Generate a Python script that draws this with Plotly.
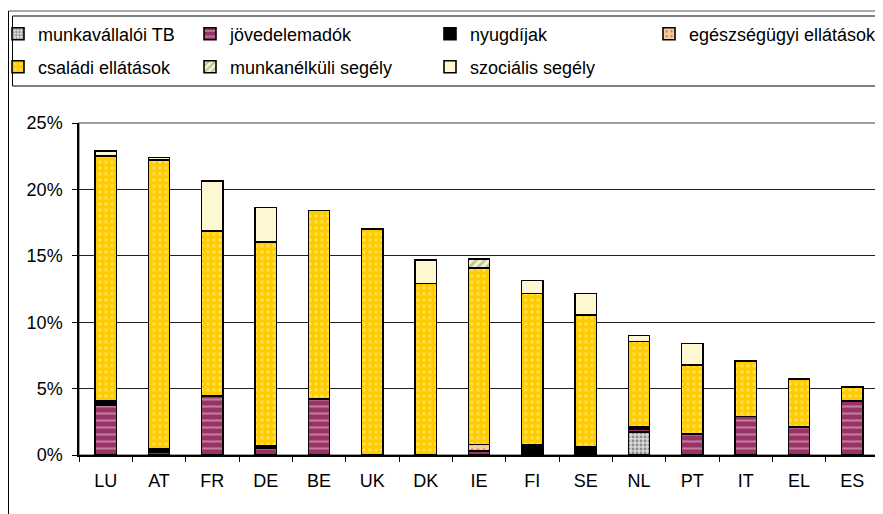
import plotly.graph_objects as go

countries = ["LU", "AT", "FR", "DE", "BE", "UK", "DK", "IE", "FI", "SE", "NL", "PT", "IT", "EL", "ES"]
munkavallaloi_TB = [0, 0, 0, 0, 0, 0, 0, 0, 0, 0, 1.75, 0, 0, 0, 0]
jovedelemadok = [3.75, 0.2, 4.45, 0.5, 4.2, 0, 0, 0.3, 0, 0, 0.2, 1.6, 2.9, 2.1, 4.05]
nyugdijak = [0.3, 0.3, 0, 0.2, 0, 0, 0, 0, 0.75, 0.6, 0.2, 0, 0, 0, 0]
egeszsegugyi = [0, 0, 0, 0, 0, 0, 0, 0.5, 0, 0, 0, 0, 0, 0, 0]
csaladi = [18.45, 21.7, 12.4, 15.35, 14.2, 17.0, 12.9, 13.3, 11.4, 9.95, 6.4, 5.2, 4.2, 3.6, 1.05]
munkanelkuli = [0, 0, 0, 0, 0, 0, 0, 0.65, 0, 0, 0, 0, 0, 0, 0]
szocialis = [0.4, 0.2, 3.8, 2.6, 0, 0, 1.8, 0, 1.0, 1.6, 0.45, 1.6, 0, 0, 0]

# page body has an 8px default margin: compensate so the picture lands at window pixels
OFF = 8
W, H = 883 - OFF, 514 - OFF
ML, MR, MT, MB = 79 - OFF, 4, 123 - OFF, 59
PW, PH = W - ML - MR, H - MT - MB

def px(x):
    return (x - OFF - ML) / PW

def py(y):
    return (H - MB - (y - OFF)) / PH

FONT = "Liberation Sans, Arial, sans-serif"

series = [
    ("munkavállalói TB", munkavallaloi_TB, "#c8c8c8", dict(shape=".", fgcolor="#404040", bgcolor="#d8d8d8", size=4, solidity=0.4), (-2, 34)),
    ("jövedelemadók", jovedelemadok, "#993366", dict(shape="-", fgcolor="#e8c4d6", bgcolor="#993366", size=7, solidity=0.3), (190, 34)),
    ("nyugdíjak", nyugdijak, "#000000", None, (430, 34)),
    ("egészségügyi ellátások", egeszsegugyi, "#ffcc99", dict(shape=".", fgcolor="#806040", bgcolor="#ffcc99", size=6, solidity=0.25), (649, 34)),
    ("családi ellátások", csaladi, "#ffcc00", dict(shape=".", fgcolor="#fff2b0", bgcolor="#ffcc00", size=6, solidity=0.25), (-2, 67)),
    ("munkanélküli segély", munkanelkuli, "#999966", dict(shape="/", fgcolor="#8a8a40", bgcolor="#f4f4dc", size=6, solidity=0.45), (190, 67)),
    ("szociális segély", szocialis, "#fdf8d2", None, (430, 67)),
]

fig = go.Figure()
layout_legends = {}
for i, (name, vals, color, pat, pos) in enumerate(series):
    lname = "legend" if i == 0 else f"legend{i+1}"
    marker = dict(color=color, line=dict(color="#000000", width=1.6))
    if pat is not None:
        marker["pattern"] = pat
    fig.add_trace(go.Bar(
        x=countries, y=vals, name=name, marker=marker, legend=lname,
    ))
    layout_legends[lname] = dict(
        x=px(pos[0]), y=py(pos[1]), xanchor="left", yanchor="middle",
        bgcolor="rgba(0,0,0,0)", borderwidth=0,
        font=dict(family=FONT, size=18, color="#000000"),
        itemwidth=30,
    )

shapes = [
    # outer chart frame
    dict(type="line", xref="paper", yref="paper", x0=px(8.5), x1=px(890), y0=py(11), y1=py(11), line=dict(color="#555555", width=1)),
    dict(type="line", xref="paper", yref="paper", x0=px(8.5), x1=px(8.5), y0=py(11), y1=py(520), line=dict(color="#000000", width=1)),
    # legend box
    dict(type="rect", xref="paper", yref="paper", x0=px(12.5), x1=px(895), y0=py(16), y1=py(86), line=dict(color="#000000", width=1)),
    # plot area border
    dict(type="rect", xref="paper", yref="paper", x0=0, x1=1, y0=0, y1=1, line=dict(color="#808080", width=1.5), layer="below"),
]

fig.update_layout(
    width=W, height=H,
    margin=dict(l=ML, r=MR, t=MT, b=MB, autoexpand=False),
    paper_bgcolor="#ffffff", plot_bgcolor="#ffffff",
    barmode="stack", bargap=0.6,
    font=dict(family=FONT, size=18, color="#000000"),
    shapes=shapes,
    showlegend=True,
    **layout_legends,
)
fig.update_xaxes(
    type="category", showline=True, linecolor="#000000", linewidth=1.5,
    ticks="outside", ticklen=5, tickcolor="#000000", tickson="boundaries",
    showgrid=False, ticklabelstandoff=9,
)
fig.update_yaxes(
    range=[0, 25], dtick=5, ticksuffix="%", showline=True, linecolor="#000000", linewidth=1.5,
    ticks="outside", ticklen=5, tickcolor="#000000",
    showgrid=True, gridcolor="#202020", gridwidth=1, zeroline=False,
    ticklabelstandoff=6,
)

fig.write_html("out.html")
